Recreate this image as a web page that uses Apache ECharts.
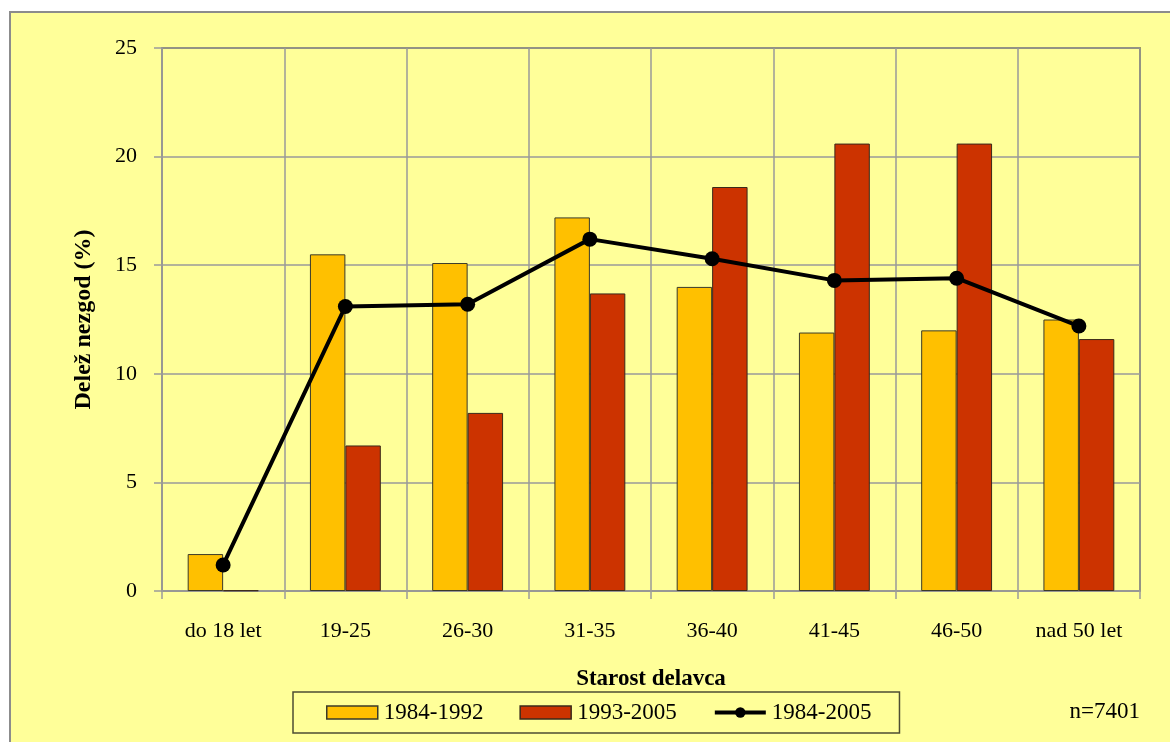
<!DOCTYPE html>
<html>
<head>
<meta charset="utf-8">
<script src="https://cdn.jsdelivr.net/npm/echarts@6/dist/echarts.min.js"></script>
<style>
html,body{margin:0;padding:0;background:#fff;}
#c{width:1170px;height:742px;}
</style>
</head>
<body>
<div id="c"></div>
<script>
const categories = ['do 18 let', '19-25', '26-30', '31-35', '36-40', '41-45', '46-50', 'nad 50 let'];
const s1984_1992 = [1.7, 15.5, 15.1, 17.2, 14.0, 11.9, 12.0, 12.5];
const s1993_2005 = [0.03, 6.7, 8.2, 13.7, 18.6, 20.6, 20.6, 11.6];
const s1984_2005 = [1.2, 13.1, 13.2, 16.2, 15.3, 14.3, 14.4, 12.2];
const yTicks = [0, 5, 10, 15, 20, 25];
const seriesNames = ['1984-1992', '1993-2005', '1984-2005'];
const xTitle = 'Starost delavca';
const yTitle = 'Delež nezgod (%)';
const note = 'n=7401';

const font = '"Liberation Serif", "Times New Roman", serif';
const chart = echarts.init(document.getElementById('c'), null, {renderer: 'canvas'});
chart.setOption({
  backgroundColor: '#ffffff',
  animation: false,
  textStyle: {fontFamily: font},
  graphic: [
    {type: 'rect', z: -10, shape: {x: 10, y: 12, width: 1200, height: 800},
     style: {fill: '#FFFF99', stroke: '#8c8c8c', lineWidth: 2}},
    {type: 'text', right: 30, top: 700, z: 10,
     style: {text: note, font: '23px ' + font, fill: '#000'}}
  ],
  grid: {left: 162, right: 30, top: 48, bottom: 151, show: true,
         backgroundColor: '#FFFF99', borderColor: '#55552a', borderWidth: 1.5},
  legend: {
    left: 293, top: 692,
    padding: [9, 28, 9, 33],
    itemGap: 36, itemWidth: 51, itemHeight: 13,
    borderColor: '#4d4d33', borderWidth: 1.5,
    textStyle: {fontFamily: font, fontSize: 23, color: '#000', padding: [2, 0, 0, 1]},
    data: [
      {name: seriesNames[0], icon: 'rect', itemStyle: {borderColor: '#3a3a2a', borderWidth: 1.5}},
      {name: seriesNames[1], icon: 'rect', itemStyle: {borderColor: '#3a2a1a', borderWidth: 1.5}},
      {name: seriesNames[2], lineStyle: {width: 4, color: '#000'}}
    ]
  },
  xAxis: {
    type: 'category', data: categories,
    axisLine: {lineStyle: {color: '#9a9a9a', width: 1.5}},
    axisTick: {show: true, length: 8, inside: false, lineStyle: {color: '#9a9a9a', width: 1.5}},
    splitLine: {show: true, interval: 0, lineStyle: {color: '#9a9a9a', width: 1.5}},
    axisLabel: {fontFamily: font, fontSize: 22, color: '#000', margin: 29, interval: 0},
    name: xTitle, nameLocation: 'middle', nameGap: 77,
    nameTextStyle: {fontFamily: font, fontSize: 23, fontWeight: 'bold', color: '#000'}
  },
  yAxis: {
    type: 'value', min: 0, max: 25, interval: 5,
    axisLine: {show: true, lineStyle: {color: '#9a9a9a', width: 1.5}},
    axisTick: {show: true, length: 8, lineStyle: {color: '#9a9a9a', width: 1.5}},
    splitLine: {show: true, lineStyle: {color: '#9a9a9a', width: 1.5}},
    axisLabel: {fontFamily: font, fontSize: 22, color: '#000', margin: 25,
      formatter: v => yTicks.includes(v) ? String(v) : ''},
    name: yTitle, nameLocation: 'middle', nameGap: 66, nameRotate: 90,
    nameTextStyle: {fontFamily: font, fontSize: 24, fontWeight: 'bold', color: '#000'}
  },
  series: [
    {name: seriesNames[0], type: 'bar', data: s1984_1992, barGap: '0%', barCategoryGap: '42%',
     itemStyle: {color: '#FFC000', borderColor: '#3a3a2a', borderWidth: 1}},
    {name: seriesNames[1], type: 'bar', data: s1993_2005, barGap: '0%', barCategoryGap: '42%',
     itemStyle: {color: '#CC3300', borderColor: '#3a2a1a', borderWidth: 1}},
    {name: seriesNames[2], type: 'line', data: s1984_2005, z: 5,
     symbol: 'circle', symbolSize: 15,
     lineStyle: {color: '#000', width: 4}, itemStyle: {color: '#000'}}
  ]
});
</script>
</body>
</html>
